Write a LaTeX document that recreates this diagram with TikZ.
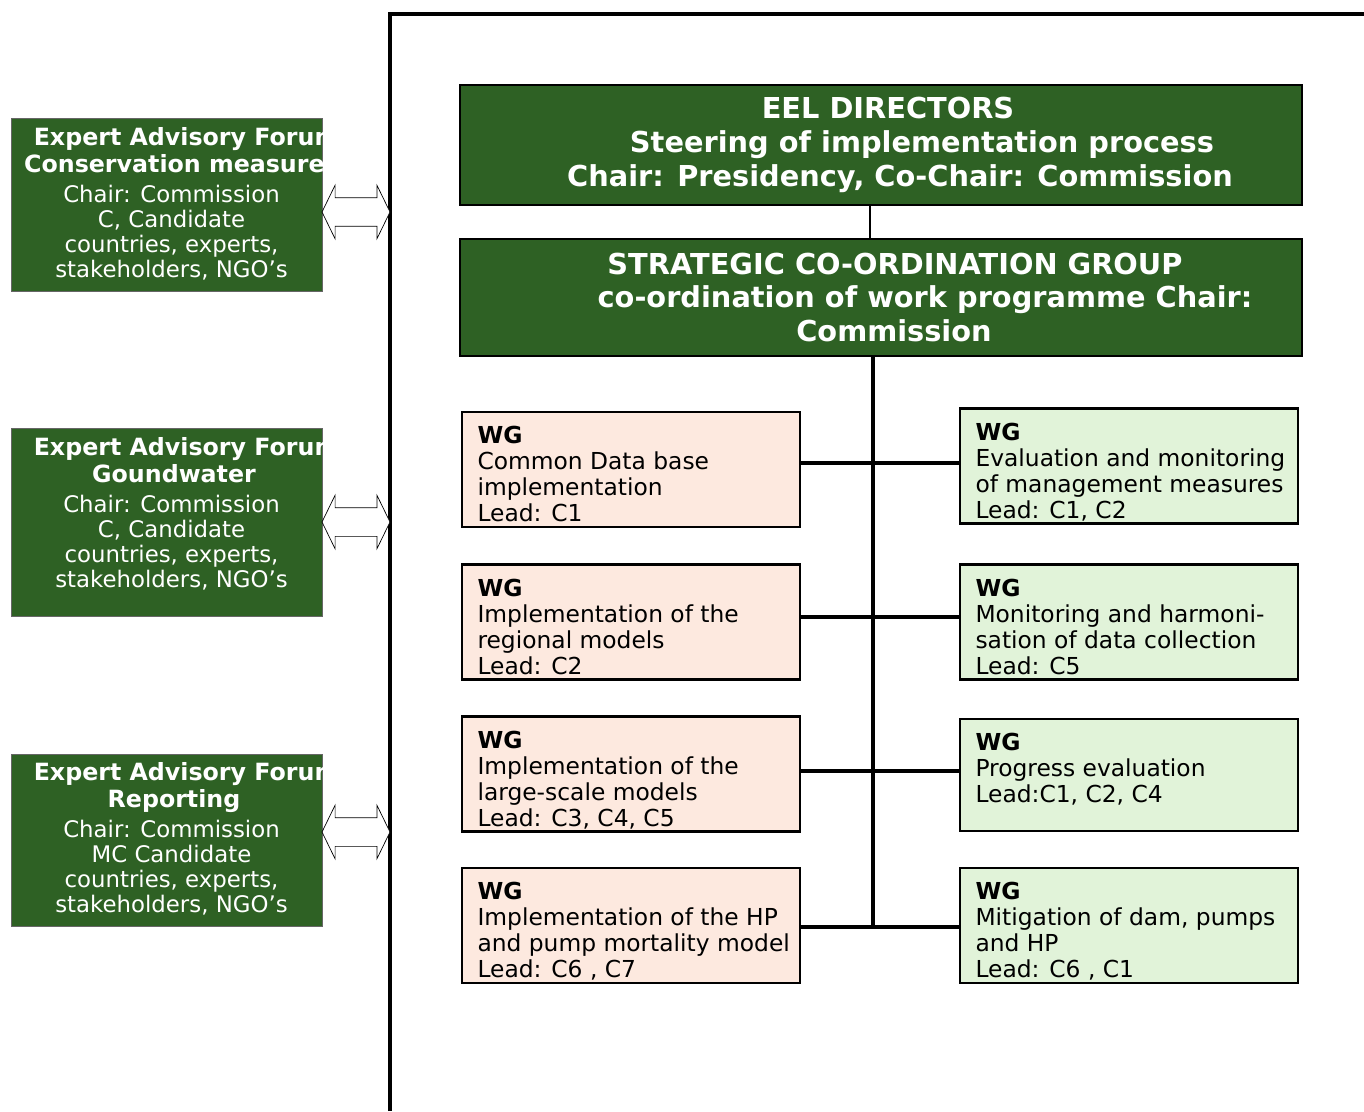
\documentclass[tikz,border=0pt]{standalone}
\usepackage{fontspec}
\setmainfont{DejaVu Sans}
\usetikzlibrary{shapes,arrows,positioning}

\definecolor{eelgreen}{HTML}{2E6124}
\definecolor{wgpeach}{HTML}{FDE9DF}
\definecolor{wgmint}{HTML}{E1F3D9}

\begin{document}
\begin{tikzpicture}[x=0.02cm,y=-0.02cm,semithick]
  \tikzstyle{every node}=[inner sep=0pt]
  \tikzstyle{forum}=[fill=eelgreen,draw=black!60,thin,minimum width=6.22cm]
  \tikzstyle{forumtext}=[align=center,text=white,font=\fontsize{13}{14.2}\selectfont]
  \tikzstyle{board}=[fill=eelgreen,draw=black,line width=1.4pt,minimum width=16.84cm,
                     align=center,text=white,font=\fontsize{16.4}{19.3}\selectfont\bfseries]
  \tikzstyle{wg}=[draw=black,line width=1.2pt,minimum width=6.76cm,minimum height=2.3cm]
  \tikzstyle{wgL}=[wg,fill=wgpeach]
  \tikzstyle{wgR}=[wg,fill=wgmint]
  \tikzstyle{wgtext}=[anchor=north west,align=left,font=\fontsize{13.3}{14.8}\selectfont]
  \tikzstyle{twoway}=[double arrow,draw,fill=white,thin,minimum height=1.36cm,
                      minimum width=1.06cm,inner ysep=0.28cm,
                      double arrow head extend=0.25cm,double arrow tip angle=128]
  \tikzstyle{link}=[line width=1.9pt]

  \useasboundingbox (0,0) rectangle (1364,1111);

  % frame
  \draw[line width=2.3pt] (390,1111) |- (1364,14);
  \coordinate (spineTop) at (870,0);
  \coordinate (row1) at (873,463);
  \coordinate (row2) at (873,617);
  \coordinate (row3) at (873,771);
  \coordinate (row4) at (873,927);

  % expert advisory forums
  \node[forum,minimum height=3.46cm] (eaf1) at (166.5,204.5) {};
  \node[forum,minimum height=3.76cm] (eaf2) at (166.5,522) {};
  \node[forum,minimum height=3.44cm] (eaf3) at (166.5,840) {};
  \node[forumtext] at ([xshift=0.1cm,yshift=0.02cm]eaf1.center)
    {\hspace*{0.6cm}\fontsize{13.5}{15.5}\selectfont\textbf{Expert Advisory Forum}\\[1pt]
     \hspace*{0.4cm}\fontsize{13.5}{15.5}\selectfont\textbf{Conservation measures}\\[3pt]
     Chair: Commission\\C, Candidate\\countries, experts,\\stakeholders, NGO’s};
  \node[forumtext] at ([xshift=0.1cm,yshift=0.16cm]eaf2.center)
    {\hspace*{0.6cm}\fontsize{13.5}{15.5}\selectfont\textbf{Expert Advisory Forum}\\[1pt]
     \hspace*{0.1cm}\fontsize{13.5}{15.5}\selectfont\textbf{Goundwater}\\[3pt]
     Chair: Commission\\C, Candidate\\countries, experts,\\stakeholders, NGO’s};
  \node[forumtext] at ([xshift=0.1cm,yshift=0.02cm]eaf3.center)
    {\hspace*{0.6cm}\fontsize{13.5}{15.5}\selectfont\textbf{Expert Advisory Forum}\\[1pt]
     \hspace*{0.1cm}\fontsize{13.5}{15.5}\selectfont\textbf{Reporting}\\[3pt]
     Chair: Commission\\MC Candidate\\countries, experts,\\stakeholders, NGO’s};

  \node[twoway] (arr1) at (356,212) {};
  \node[twoway] (arr2) at (356,522) {};
  \node[twoway] (arr3) at (356,832) {};

  % steering
  \node[board,minimum height=2.4cm] (eel) at (881,145)
    {\hspace*{0.28cm}EEL DIRECTORS\\
     \hspace*{1.64cm}Steering of implementation process\\
     \hspace*{0.76cm}Chair: Presidency, Co-Chair: Commission};
  \node[board,minimum height=2.34cm] (scg) at (881,297.5)
    {\hspace*{0.56cm}STRATEGIC CO-ORDINATION GROUP\\
     \hspace*{1.76cm}co-ordination of work programme Chair:\\
     \hspace*{0.52cm}Commission};

  % working groups
  \node[wgL] (wgL1) at (631,469.5) {};
  \node[wgL] (wgL2) at (631,622) {};
  \node[wgL] (wgL3) at (631,774) {};
  \node[wgL] (wgL4) at (631,925.5) {};
  \node[wgR] (wgR1) at (1129,466) {};
  \node[wgR] (wgR2) at (1129,622) {};
  \node[wgR,minimum height=2.24cm] (wgR3) at (1129,775) {};
  \node[wgR] (wgR4) at (1129,925.5) {};

  \node[wgtext] at ([xshift=0.32cm,yshift=-0.3cm]wgL1.north west)
    {\textbf{WG}\\Common Data base\\implementation\\Lead: C1};
  \node[wgtext] at ([xshift=0.32cm,yshift=-0.3cm]wgL2.north west)
    {\textbf{WG}\\Implementation of the\\regional models\\Lead: C2};
  \node[wgtext] at ([xshift=0.32cm,yshift=-0.3cm]wgL3.north west)
    {\textbf{WG}\\Implementation of the\\large-scale models\\Lead: C3, C4, C5};
  \node[wgtext] at ([xshift=0.32cm,yshift=-0.3cm]wgL4.north west)
    {\textbf{WG}\\Implementation of the HP\\and pump mortality model\\Lead: C6 , C7};
  \node[wgtext] at ([xshift=0.32cm,yshift=-0.3cm]wgR1.north west)
    {\textbf{WG}\\Evaluation and monitoring\\of management measures\\Lead: C1, C2};
  \node[wgtext] at ([xshift=0.32cm,yshift=-0.3cm]wgR2.north west)
    {\textbf{WG}\\Monitoring and harmoni-\\sation of data collection\\Lead: C5};
  \node[wgtext] at ([xshift=0.32cm,yshift=-0.3cm]wgR3.north west)
    {\textbf{WG}\\Progress evaluation\\Lead:C1, C2, C4};
  \node[wgtext] at ([xshift=0.32cm,yshift=-0.3cm]wgR4.north west)
    {\textbf{WG}\\Mitigation of dam, pumps\\and HP\\Lead: C6 , C1};

  % connectors
  \draw[line width=1.1pt] (eel.south -| spineTop) -- (scg.north -| spineTop);
  \draw[link] (scg.south -| row1) -- (row4);
  \draw[link] (wgL1.east |- row1) -- (wgR1.west |- row1);
  \draw[link] (wgL2.east |- row2) -- (wgR2.west |- row2);
  \draw[link] (wgL3.east |- row3) -- (wgR3.west |- row3);
  \draw[link] (wgL4.east |- row4) -- (wgR4.west |- row4);
\end{tikzpicture}
\end{document}
